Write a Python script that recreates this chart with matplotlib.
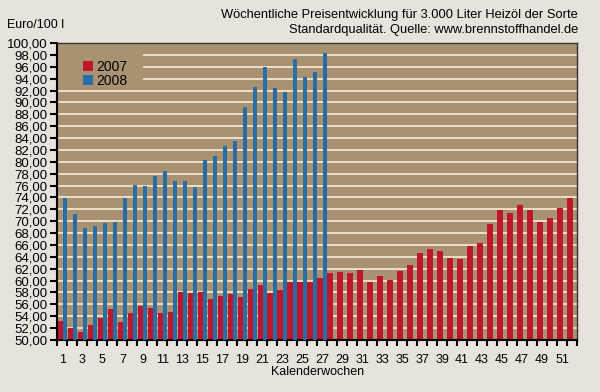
import matplotlib.pyplot as plt
import matplotlib.transforms as mtransforms
from matplotlib.patches import Rectangle
import numpy as np

# Wochenpreise Euro/100 l
weeks = np.arange(1, 53)
price_2007 = [53.25, 52.05, 51.4, 52.6, 53.75, 55.2, 53.0, 54.6, 55.7, 55.45,
              54.5, 54.65, 58.0, 57.9, 58.1, 56.95, 57.45, 57.7, 57.2, 58.5,
              59.25, 57.9, 58.45, 59.7, 59.7, 59.7, 60.5, 61.3, 61.4, 61.2,
              61.8, 59.8, 60.7, 60.15, 61.6, 62.7, 64.7, 65.3, 65.0, 63.85,
              63.6, 65.8, 66.3, 69.5, 71.9, 71.3, 72.8, 71.9, 69.9, 70.5,
              72.3, 73.95]
price_2008 = [73.85, 71.25, 68.85, 69.25, 69.7, 69.85, 73.85, 76.15, 75.9, 77.55,
              78.5, 76.75, 76.75, 75.8, 80.35, 81.0, 82.65, 83.45, 89.3, 92.65,
              95.95, 92.35, 91.7, 97.25, 94.3, 95.05, 98.4]
series_names = ["2007", "2008"]
yticks = np.arange(50, 101, 2)

fig_bg = "#e7e3dc"
plot_bg = "#a89272"
grid_col = "#f1e6cc"
red = "#be162d"
blue = "#266ea5"

plt.rcParams['font.family'] = ['Liberation Sans', 'DejaVu Sans']

fig = plt.figure(figsize=(6, 3.92), dpi=100, facecolor=fig_bg)
ax = fig.add_axes([0.0958, 0.1327, 0.8659, 0.7576])
ax.set_facecolor(plot_bg)

for y in yticks[1:-1]:
    ax.axhline(y, color=grid_col, lw=1.3, zorder=1)

# legend area hides the grid lines
trans = mtransforms.blended_transform_factory(ax.transAxes, ax.transData)
ax.add_patch(Rectangle((0, 92.6), 0.164, 7.0, transform=trans,
                       facecolor=plot_bg, edgecolor='none', zorder=1.5))

w8 = np.arange(1, len(price_2008) + 1)
ax.bar(weeks - 0.48, np.array(price_2007) - 50, width=0.55, bottom=50,
       align='edge', color=red, zorder=2, label=series_names[0])
ax.bar(w8 + 0.05, np.array(price_2008) - 50, width=0.45, bottom=50,
       align='edge', color=blue, zorder=3, label=series_names[1])

ax.set_xlim(0.5, 52.5)
ax.set_ylim(50, 100)

ax.set_yticks(yticks)
ax.set_yticklabels([f"{v:.2f}".replace(".", ",") for v in yticks], fontsize=9.5)
ax.set_xticks(np.arange(1, 53, 2))
ax.set_xticklabels([str(w) for w in range(1, 53, 2)], fontsize=9)
ax.set_xticks(np.arange(0.5, 53, 1), minor=True)
ax.tick_params(axis='x', which='major', length=0, pad=10)
ax.tick_params(axis='x', which='minor', length=4, width=1.5, color='black')
ax.tick_params(axis='y', length=5, width=1.5, pad=2)

for s in ['left', 'bottom']:
    ax.spines[s].set_linewidth(1.5)
for s in ['top', 'right']:
    ax.spines[s].set_linewidth(1.0)
    ax.spines[s].set_color('#333333')

ax.set_xlabel("Kalenderwochen", fontsize=9, labelpad=0)

leg = ax.legend(loc='upper left', bbox_to_anchor=(0.03, 0.975), frameon=False,
                fontsize=10, handlelength=0.7, handleheight=0.7,
                handletextpad=0.3, labelspacing=0.0, borderpad=0.2)

fig.text(7 / 600, 1 - 19 / 392, "Euro/100 l", fontsize=9, ha='left', va='top')
fig.text(578 / 600, 1 - 9 / 392,
         "Wöchentliche Preisentwicklung für 3.000 Liter Heizöl der Sorte\n"
         "Standardqualität. Quelle: www.brennstoffhandel.de",
         fontsize=9.3, ha='right', va='top', linespacing=1.3)

fig.savefig("out.png", dpi=100, facecolor=fig_bg)
